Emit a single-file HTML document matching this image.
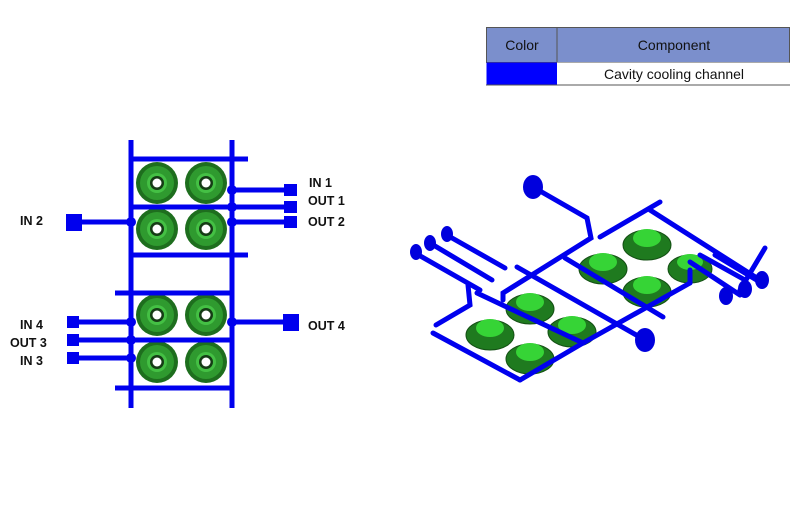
<!DOCTYPE html>
<html><head><meta charset="utf-8"><style>
body{margin:0;width:800px;height:500px;background:#fff;overflow:hidden;font-family:"Liberation Sans",sans-serif}
</style></head><body>
<svg width="800" height="500" viewBox="0 0 800 500" xmlns="http://www.w3.org/2000/svg">
<rect x="486.5" y="27.5" width="303" height="35" fill="#7b8fcc" stroke="#555" stroke-width="1"/>
<line x1="557" y1="27" x2="557" y2="62" stroke="#555"/>
<rect x="486.5" y="62.5" width="70.5" height="22" fill="#0000ff"/>
<rect x="557" y="62.5" width="232.5" height="22" fill="#fff"/>
<line x1="486" y1="85" x2="790" y2="85" stroke="#555"/>
<text x="522" y="50" font-size="14" text-anchor="middle" fill="#111">Color</text>
<text x="674" y="50" font-size="14" text-anchor="middle" fill="#111">Component</text>
<text x="674" y="79" font-size="14" text-anchor="middle" fill="#111">Cavity cooling channel</text>

<g>
<g id="d"><circle cx="157" cy="183" r="21" fill="#1e6e1e"/><circle cx="157" cy="183" r="17" fill="#2f9a2f"/><circle cx="157" cy="183" r="10" fill="#44c044"/><circle cx="157" cy="183" r="7" fill="#153c15"/><circle cx="157" cy="183" r="4.5" fill="#fff"/></g>
<use href="#d" x="49"/><use href="#d" y="46"/><use href="#d" x="49" y="46"/>
<use href="#d" y="132"/><use href="#d" x="49" y="132"/><use href="#d" y="179"/><use href="#d" x="49" y="179"/>
</g>
<g stroke="#0000ee" stroke-width="5" fill="none">
<line x1="131" y1="140" x2="131" y2="408"/>
<line x1="232" y1="140" x2="232" y2="408"/>
<line x1="131" y1="159" x2="248" y2="159"/>
<line x1="131" y1="207" x2="295" y2="207"/>
<line x1="131" y1="255" x2="248" y2="255"/>
<line x1="115" y1="293" x2="232" y2="293"/>
<line x1="70" y1="340" x2="232" y2="340"/>
<line x1="115" y1="388" x2="232" y2="388"/>
<line x1="232" y1="190" x2="295" y2="190"/>
<line x1="66" y1="222" x2="131" y2="222"/>
<line x1="232" y1="222" x2="295" y2="222"/>
<line x1="68" y1="322" x2="131" y2="322"/>
<line x1="232" y1="322" x2="298" y2="322"/>
<line x1="68" y1="358" x2="131" y2="358"/>
</g>
<g fill="#0000ee">
<rect x="66" y="214" width="16" height="17"/><rect x="283" y="314" width="16" height="17"/>
<rect x="284" y="184" width="13" height="12"/><rect x="284" y="201" width="13" height="12"/><rect x="284" y="216" width="13" height="12"/>
<rect x="67" y="316" width="12" height="12"/><rect x="67" y="334" width="12" height="12"/><rect x="67" y="352" width="12" height="12"/>
<circle cx="232" cy="190" r="5"/><circle cx="232" cy="207" r="5"/><circle cx="131" cy="222" r="5"/><circle cx="232" cy="222" r="5"/>
<circle cx="131" cy="322" r="5"/><circle cx="232" cy="322" r="5"/><circle cx="131" cy="340" r="5"/><circle cx="131" cy="358" r="5"/>
</g>
<g font-size="12.5" font-weight="bold" fill="#111">
<text x="309" y="187">IN 1</text><text x="308" y="205">OUT 1</text><text x="308" y="226">OUT 2</text>
<text x="20" y="225">IN 2</text><text x="20" y="329">IN 4</text><text x="10" y="347">OUT 3</text><text x="20" y="365">IN 3</text>
<text x="308" y="330">OUT 4</text>
</g>

<g>
<g fill="#1f7a1f" stroke="#145014" stroke-width="1">
<ellipse cx="647" cy="245" rx="24" ry="15"/><ellipse cx="603" cy="269" rx="24" ry="15"/><ellipse cx="647" cy="292" rx="24" ry="15"/><ellipse cx="690" cy="269" rx="22" ry="14"/>
<ellipse cx="530" cy="309" rx="24" ry="15"/><ellipse cx="572" cy="332" rx="24" ry="15"/><ellipse cx="490" cy="335" rx="24" ry="15"/><ellipse cx="530" cy="359" rx="24" ry="15"/>
</g>
<g fill="#36d436">
<ellipse cx="647" cy="238" rx="14" ry="9"/><ellipse cx="603" cy="262" rx="14" ry="9"/><ellipse cx="647" cy="285" rx="14" ry="9"/><ellipse cx="690" cy="262" rx="13" ry="8"/>
<ellipse cx="530" cy="302" rx="14" ry="9"/><ellipse cx="572" cy="325" rx="14" ry="9"/><ellipse cx="490" cy="328" rx="14" ry="9"/><ellipse cx="530" cy="352" rx="14" ry="9"/>
</g>
<g stroke="#0000ee" stroke-width="5" fill="none" stroke-linecap="round">
<polyline points="533,187 587,218 591,238 503,293 503,300"/>
<polyline points="600,237 660,202"/>
<polyline points="650,210 760,280"/>
<polyline points="565,258 663,317"/>
<polyline points="517,267 645,340"/>
<polyline points="433,333 520,380"/>
<polyline points="477,293 583,343 520,380"/>
<polyline points="468,285 470,305 436,325"/>
<polyline points="583,343 690,283"/>
<polyline points="690,283 690,270"/>
<polyline points="415,253 480,290"/>
<polyline points="430,243 492,280"/>
<polyline points="445,234 505,268"/>
<polyline points="700,255 745,280"/>
<polyline points="715,255 765,285"/>
<polyline points="690,262 740,295"/>
<polyline points="740,290 765,248"/>
</g>
<g fill="#0000dd">
<ellipse cx="533" cy="187" rx="10" ry="12"/>
<ellipse cx="645" cy="340" rx="10" ry="12"/>
<ellipse cx="416" cy="252" rx="6" ry="8"/><ellipse cx="430" cy="243" rx="6" ry="8"/><ellipse cx="447" cy="234" rx="6" ry="8"/>
<ellipse cx="762" cy="280" rx="7" ry="9"/><ellipse cx="745" cy="289" rx="7" ry="9"/><ellipse cx="726" cy="296" rx="7" ry="9"/>
</g>
</g>
</svg>
</body></html>
